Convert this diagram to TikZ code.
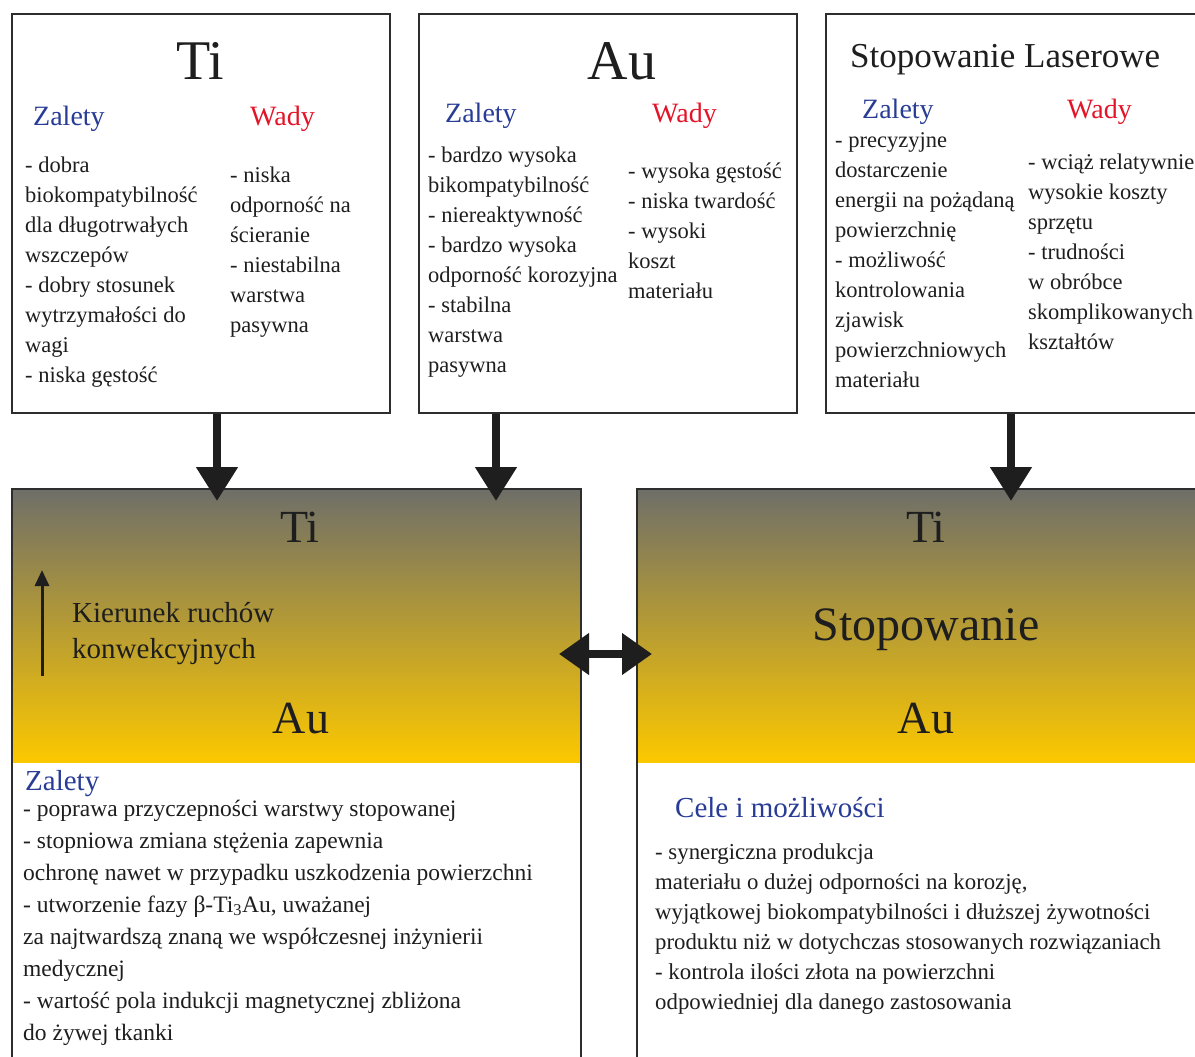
\documentclass[tikz,border=0pt]{standalone}
\usepackage{fontspec}
\setmainfont{Liberation Serif}
\usetikzlibrary{arrows.meta}
\definecolor{zal}{RGB}{40,60,150}
\definecolor{wad}{RGB}{228,20,40}
\definecolor{gtop}{RGB}{110,110,105}
\definecolor{gbot}{RGB}{252,200,0}
\definecolor{ink}{RGB}{30,30,30}
\definecolor{frame}{RGB}{45,45,45}
\begin{document}
\begin{tikzpicture}[x=1pt,y=-1pt,
  box/.style={draw=frame,line width=2pt,fill=none,rectangle,inner sep=0pt,anchor=north west},
  big/.style={font=\fontsize{56}{60}\selectfont,text=ink,inner sep=0pt,anchor=base},
  mid/.style={font=\fontsize{46}{50}\selectfont,text=ink,inner sep=0pt,anchor=base},
  head/.style={font=\fontsize{28}{32}\selectfont,inner sep=0pt,anchor=base west},
  body/.style={font=\fontsize{22.5}{30}\selectfont,text=ink,inner sep=0pt,anchor=base west,align=left},
  fat/.style={line width=8pt,draw=ink,-{Triangle[width=40pt,length=34pt]}},
  fatboth/.style={line width=8pt,draw=ink,{Triangle[width=40pt,length=30pt]}-{Triangle[width=40pt,length=30pt]}},
  thin/.style={line width=3pt,draw=ink,-{Triangle[width=14pt,length=16pt]}}
]
\useasboundingbox (0,0) rectangle (1195,1057);
\clip (0,0) rectangle (1195,1057);
\fill[white] (0,0) rectangle (1195,1057);

% top boxes
\node[box,minimum width=378pt,minimum height=399pt] (ti) at (11,13) {};
\node[box,minimum width=378pt,minimum height=399pt] (au) at (418,13) {};
\node[box,minimum width=390pt,minimum height=399pt] (sl) at (825,13) {};

% lower boxes
\shade[top color=gtop,bottom color=gbot] (11,488) rectangle (580,762);
\shade[top color=gtop,bottom color=gbot] (636,488) rectangle (1215,762);
\node[box,minimum width=569pt,minimum height=590pt] (lb) at (11,488) {};
\node[box,minimum width=590pt,minimum height=590pt] (rb) at (636,488) {};

% box 1 (multi-line nodes are anchored at the baseline of their last line)
\node[big] (t1) at (200,80) {Ti};
\node[head,text=zal] (z1) at (33,125) {Zalety};
\node[head,text=wad] (w1) at (250,125) {Wady};
\node[body] (z1t) at (25,382) {- dobra\\ biokompatybilność\\ dla długotrwałych\\ wszczepów\\ - dobry stosunek\\ wytrzymałości do\\ wagi\\ - niska gęstość};
\node[body] (w1t) at (230,332) {- niska\\ odporność na\\ ścieranie\\ - niestabilna\\ warstwa\\ pasywna};

% box 2
\node[big] (t2) at (622,80) {Au};
\node[head,text=zal] (z2) at (445,122) {Zalety};
\node[head,text=wad] (w2) at (652,122) {Wady};
\node[body] (z2t) at (428,372) {- bardzo wysoka\\ bikompatybilność\\ - niereaktywność\\ - bardzo wysoka\\ odporność korozyjna\\ - stabilna\\ warstwa\\ pasywna};
\node[body] (w2t) at (628,298) {- wysoka gęstość\\ - niska twardość\\ - wysoki\\ koszt\\ materiału};

% box 3
\node[font=\fontsize{35}{40}\selectfont,text=ink,inner sep=0pt,anchor=base west] (t3) at (850,68) {Stopowanie Laserowe};
\node[head,text=zal] (z3) at (862,118) {Zalety};
\node[head,text=wad] (w3) at (1067,118) {Wady};
\node[body] (z3t) at (835,387) {- precyzyjne\\ dostarczenie\\ energii na pożądaną\\ powierzchnię\\ - możliwość\\ kontrolowania\\ zjawisk\\ powierzchniowych\\ materiału};
\node[body] (w3t) at (1028,349) {- wciąż relatywnie\\ wysokie koszty\\ sprzętu\\ - trudności\\ w obróbce\\ skomplikowanych\\ kształtów};

% lower left
\node[mid] (lti) at (300,542) {Ti};
\node[mid] (lau) at (301,733) {Au};
\node[font=\fontsize{29}{36}\selectfont,text=ink,inner sep=0pt,anchor=base west,align=left] (kier) at (72,658) {Kierunek ruchów\\ konwekcyjnych};
\coordinate (ua1) at (42,676);
\coordinate (ua2) at (42,570);
\draw[thin] (ua1) -- (ua2);
\node[head,font=\fontsize{29}{32}\selectfont,text=zal] (z4) at (25,790) {Zalety};
\node[body,font=\fontsize{23.5}{32}\selectfont] (z4t) at (23,1040) {- poprawa przyczepności warstwy stopowanej\\ - stopniowa zmiana stężenia zapewnia\\ ochronę nawet w przypadku uszkodzenia powierzchni\\ - utworzenie fazy β-Ti\textsubscript{3}Au, uważanej\\ za najtwardszą znaną we współczesnej inżynierii\\ medycznej\\ - wartość pola indukcji magnetycznej zbliżona\\ do żywej tkanki};

% lower right
\node[mid] (rti) at (926,542) {Ti};
\node[mid,font=\fontsize{48}{52}\selectfont] (rst) at (926,640) {Stopowanie};
\node[mid] (rau) at (926,733) {Au};
\node[head,font=\fontsize{29}{32}\selectfont,text=zal] (cel) at (675,817) {Cele i możliwości};
\node[body,font=\fontsize{22.8}{30}\selectfont] (celt) at (655,1009) {- synergiczna produkcja\\ materiału o dużej odporności na korozję,\\ wyjątkowej biokompatybilności i dłuższej żywotności\\ produktu niż w dotychczas stosowanych rozwiązaniach\\ - kontrola ilości złota na powierzchni\\ odpowiedniej dla danego zastosowania};

% connectors
\coordinate (c1) at (217,0);
\coordinate (c2) at (496,0);
\coordinate (c3) at (1011,0);
\coordinate (c4) at (0,654);
\draw[fat] (c1 |- ti.south) -- ([yshift=-13pt]c1 |- lb.north);
\draw[fat] (c2 |- au.south) -- ([yshift=-13pt]c2 |- lb.north);
\draw[fat] (c3 |- sl.south) -- ([yshift=-13pt]c3 |- rb.north);
\draw[fatboth] ([xshift=-23pt]lb.east |- c4) -- ([xshift=16pt]rb.west |- c4);
\end{tikzpicture}
\end{document}
